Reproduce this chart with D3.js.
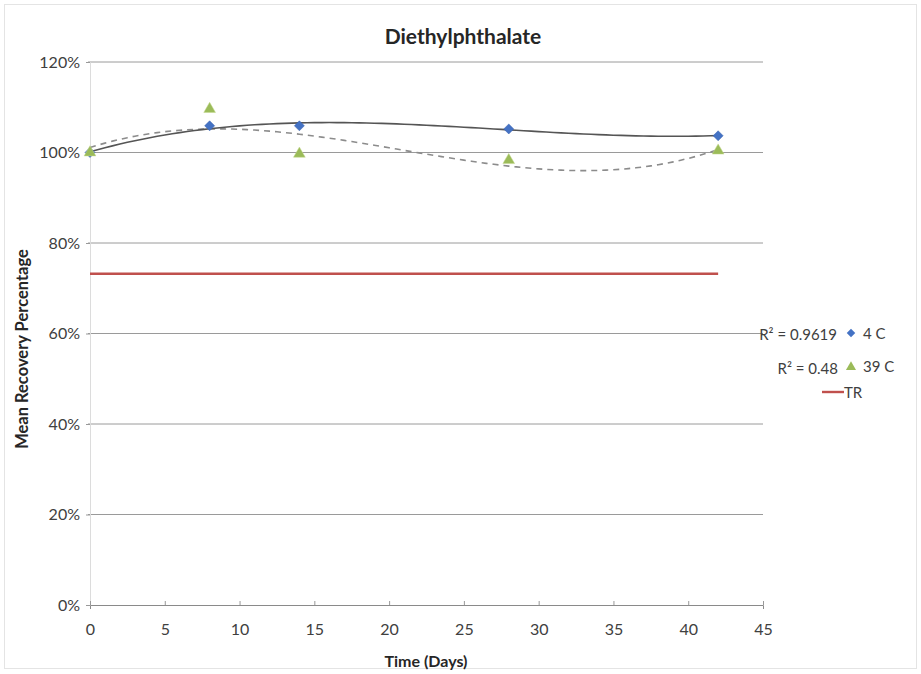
<!DOCTYPE html>
<html><head><meta charset="utf-8">
<script src="https://cdn.jsdelivr.net/npm/d3@7"></script>
<style>body{margin:0;background:#fff}text{font-family:Lato,"Open Sans",sans-serif}</style>
</head><body>
<svg id="c" width="921" height="674"></svg>
<script>
const days = [0, 8, 14, 28, 42];
const c4 = [100, 105.9, 105.9, 105.2, 103.7];
const c39 = [100, 109.6, 99.7, 98.3, 100.4];
const trDays = [0, 42];
const trValue = [73.2, 73.2];
const xTicks = [0,5,10,15,20,25,30,35,40,45];
const yTicks = [0,20,40,60,80,100,120];
const r2Labels = ["R² = 0.9619", "R² = 0.48"];
const seriesNames = ["4 C", "39 C", "TR"];

const svg = d3.select("#c");
svg.append("rect").attr("x",4.5).attr("y",4.5).attr("width",912).attr("height",664)
  .attr("fill","#fff").attr("stroke","#e4e4e4");

const x = d3.scaleLinear().domain([0,45]).range([90,763]);
const y = d3.scaleLinear().domain([0,120]).range([605,62]);

// gridlines
svg.append("g").selectAll("line").data(yTicks.filter(d=>d>0)).join("line")
  .attr("x1",88).attr("x2",763).attr("y1",d=>y(d)).attr("y2",d=>y(d))
  .attr("stroke","#9a9a9a").attr("stroke-width",1);

// axes
const yAxis = d3.axisLeft(y).tickValues(yTicks).tickFormat(d=>d+"%").tickSize(4).tickPadding(6);
const gy = svg.append("g").attr("transform","translate(90,0)").call(yAxis);
gy.select(".domain").attr("stroke","#dcdcdc");
gy.selectAll(".tick line").attr("stroke","#999");
gy.selectAll("text").attr("font-size",16).attr("fill","#404040").attr("font-family","Lato,sans-serif");

const xAxis = d3.axisBottom(x).tickValues(xTicks).tickSize(4).tickPadding(15);
const gx = svg.append("g").attr("transform","translate(0,605)").call(xAxis);
gx.select(".domain").attr("stroke","#8a8a8a");
gx.selectAll(".tick line").attr("stroke","#999").attr("transform","translate(0,-4)");
gx.selectAll("text").attr("font-size",16).attr("fill","#404040").attr("font-family","Lato,sans-serif");

// cubic least-squares fit
function polyfit(xs, ys, deg){
  const n = deg+1, A = [];
  for(let i=0;i<n;i++){ A.push(new Array(n+1).fill(0)); }
  xs.forEach((xv,k)=>{
    for(let i=0;i<n;i++){
      for(let j=0;j<n;j++) A[i][j]+=Math.pow(xv,i+j);
      A[i][n]+=ys[k]*Math.pow(xv,i);
    }
  });
  for(let i=0;i<n;i++){
    let p=i; for(let r=i+1;r<n;r++) if(Math.abs(A[r][i])>Math.abs(A[p][i])) p=r;
    [A[i],A[p]]=[A[p],A[i]];
    for(let r=0;r<n;r++){ if(r===i) continue; const f=A[r][i]/A[i][i];
      for(let cc=i;cc<=n;cc++) A[r][cc]-=f*A[i][cc]; }
  }
  return A.map((row,i)=>row[n]/row[i]);
}
const evalP = (co,xv)=>co.reduce((s,cv,i)=>s+cv*Math.pow(xv,i),0);
const line = d3.line().x(d=>x(d[0])).y(d=>y(d[1])).curve(d3.curveLinear);
const xs = d3.range(0,42.01,0.5);
const co4 = polyfit(days,c4,3), co39 = polyfit(days,c39,3);

// TR line
svg.append("path").datum(trDays.map((d,i)=>[d,trValue[i]])).attr("d",line)
  .attr("fill","none").attr("stroke","#C0504D").attr("stroke-width",2.4);

// trendlines
svg.append("path").datum(xs.map(v=>[v,evalP(co39,v)])).attr("d",line)
  .attr("fill","none").attr("stroke","#8c8c8c").attr("stroke-width",1.6).attr("stroke-dasharray","6,5");
svg.append("path").datum(xs.map(v=>[v,evalP(co4,v)])).attr("d",line)
  .attr("fill","none").attr("stroke","#555").attr("stroke-width",1.6);

// markers
const square = d3.symbol().type(d3.symbolSquare).size(50);
const tri = d3.symbol().type(d3.symbolTriangle).size(60);
svg.append("g").selectAll("path").data(days.map((d,i)=>[d,c4[i]])).join("path")
  .attr("d",square).attr("transform",d=>`translate(${x(d[0])},${y(d[1])}) rotate(45)`)
  .attr("fill","#4472C4").attr("stroke","#3a62b0").attr("stroke-width",0.5);
svg.append("g").selectAll("path").data(days.map((d,i)=>[d,c39[i]])).join("path")
  .attr("d",tri).attr("transform",d=>`translate(${x(d[0])},${y(d[1])})`)
  .attr("fill","#9BBB59").attr("stroke","#c5d88f").attr("stroke-width",0.5);

// title & axis titles
svg.append("text").attr("x",463).attr("y",44).attr("text-anchor","middle")
  .attr("font-size",21).attr("font-weight","bold").attr("fill","#262626").text("Diethylphthalate");
svg.append("text").attr("transform","translate(28,349) rotate(-90)").attr("text-anchor","middle")
  .attr("font-size",16.5).attr("font-weight","bold").attr("fill","#262626").text("Mean Recovery Percentage");
svg.append("text").attr("x",426).attr("y",667).attr("text-anchor","middle")
  .attr("font-size",16).attr("font-weight","bold").attr("fill","#262626").text("Time (Days)");

// legend
const lg = svg.append("g");
lg.append("path").attr("d",square.size(36)).attr("transform","translate(851,333) rotate(45)").attr("fill","#4472C4");
lg.append("path").attr("d",tri.size(44)).attr("transform","translate(851,367)").attr("fill","#9BBB59");
lg.append("line").attr("x1",822).attr("x2",844).attr("y1",392).attr("y2",392).attr("stroke","#C0504D").attr("stroke-width",2.4);
const ly = [339,372,398];
seriesNames.forEach((s,i)=>{
  lg.append("text").attr("x",i<2?863:844).attr("y",ly[i]).attr("font-size",15).attr("fill","#404040").text(s);
});
lg.append("text").attr("x",837).attr("y",340).attr("text-anchor","end").attr("font-size",15).attr("fill","#404040").text(r2Labels[0]);
lg.append("text").attr("x",838).attr("y",374).attr("text-anchor","end").attr("font-size",15).attr("fill","#404040").text(r2Labels[1]);
</script>
</body></html>
